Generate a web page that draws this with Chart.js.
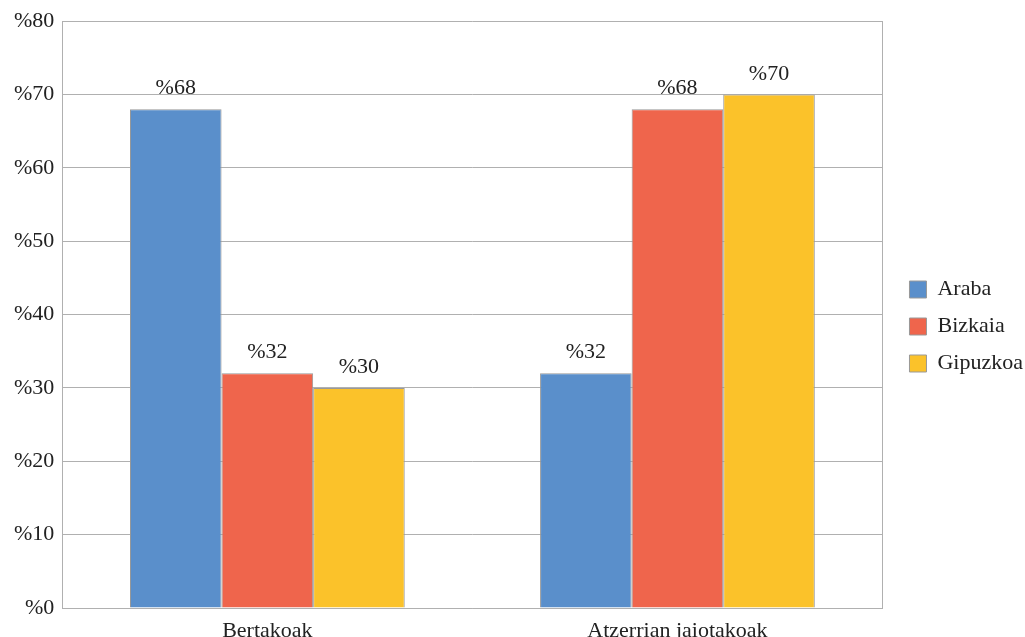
<!DOCTYPE html>
<html>
<head>
<meta charset="utf-8">
<script src="https://cdn.jsdelivr.net/npm/chart.js@4"></script>
<style>
  html, body { margin: 0; padding: 0; background: #fff; }
  #wrap { width: 1025px; height: 637px; }
</style>
</head>
<body>
<div id="wrap"><canvas id="chart" width="1025" height="637"></canvas></div>
<script>
  var categories = ["Bertakoak", "Atzerrian jaiotakoak"];
  var araba = [68, 32];
  var bizkaia = [32, 68];
  var gipuzkoa = [30, 70];
  var seriesNames = ["Araba", "Bizkaia", "Gipuzkoa"];

  var colors = ["#5a8fcb", "#ef654c", "#fbc22a"];
  var fontFamily = "'Liberation Serif', 'DejaVu Serif', serif";

  // value labels above each bar
  var valueLabels = {
    id: "valueLabels",
    afterDatasetsDraw: function (chart) {
      var ctx = chart.ctx;
      ctx.save();
      ctx.font = "22px " + fontFamily;
      ctx.fillStyle = "#222";
      ctx.textAlign = "center";
      ctx.textBaseline = "alphabetic";
      chart.data.datasets.forEach(function (ds, i) {
        chart.getDatasetMeta(i).data.forEach(function (bar, j) {
          ctx.fillText("%" + ds.data[j], bar.x, bar.y - 15);
        });
      });
      ctx.restore();
    }
  };

  new Chart(document.getElementById("chart"), {
    type: "bar",
    data: {
      labels: categories,
      datasets: [
        { label: seriesNames[0], data: araba },
        { label: seriesNames[1], data: bizkaia },
        { label: seriesNames[2], data: gipuzkoa }
      ].map(function (d, i) {
        d.backgroundColor = colors[i];
        d.borderColor = "#999";
        d.borderWidth = 1;
        d.categoryPercentage = 0.67;
        d.barPercentage = 1.0;
        return d;
      })
    },
    options: {
      responsive: false,
      animation: false,
      devicePixelRatio: 1,
      layout: { padding: { left: 6, right: -8, top: 16, bottom: 0 } },
      plugins: {
        legend: {
          position: "right",
          labels: {
            font: { family: fontFamily, size: 22 },
            color: "#222",
            boxWidth: 17,
            boxHeight: 17,
            padding: 15
          }
        },
        tooltip: { enabled: false }
      },
      scales: {
        x: {
          grid: { display: false },
          border: { display: true, color: "#b0b0b0" },
          ticks: { font: { family: fontFamily, size: 22 }, color: "#222", padding: 2 },
          afterFit: function (scale) { scale.height = 29; }
        },
        y: {
          min: 0,
          max: 80,
          ticks: {
            stepSize: 10,
            font: { family: fontFamily, size: 22 },
            color: "#222",
            padding: 8,
            callback: function (v) { return "%" + v; }
          },
          grid: { color: "#b0b0b0", drawTicks: false },
          border: { color: "#b0b0b0" }
        },
        yRight: {
          position: "right",
          min: 0,
          max: 80,
          grid: { display: false },
          ticks: { display: false },
          border: { display: true, color: "#b0b0b0" },
          afterFit: function (scale) { scale.width += 4; }
        }
      }
    },
    plugins: [valueLabels]
  });
</script>
</body>
</html>
